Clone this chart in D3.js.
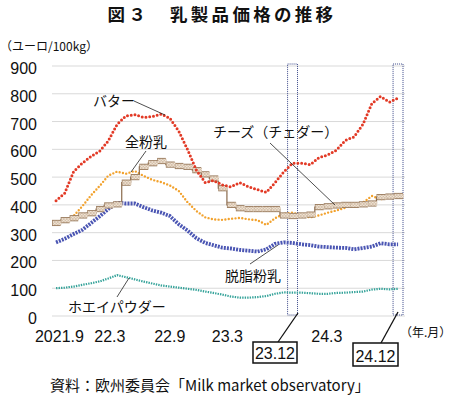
<!DOCTYPE html>
<meta charset="utf-8">
<script src="https://d3js.org/d3.v7.min.js"></script>
<style>
  body { margin: 0; background: #fff; }
  text { font-family: "Noto Sans CJK JP", "Liberation Sans", sans-serif; fill: #111; }
  .num { font-family: "Liberation Sans", Arial, sans-serif; }
</style>
<body>
<script>
// months, Sep 2021 .. Dec 2024
var months = d3.range(0, 40).map(function(i) { return new Date(2021, 8 + i, 1); });

// euro / 100kg, monthly
var butter = [415, 442, 520, 550, 575, 595, 630, 690, 720, 725, 715, 718, 727, 712, 665, 600, 525, 480, 488, 472,
              465, 480, 465, 455, 445, 480, 520, 550, 550, 545, 570, 580, 597, 632, 645, 690, 765, 790, 770, 785];
var wmp    = [330, 345, 360, 395, 435, 470, 505, 520, 512, 522, 505, 490, 482, 470, 450, 410, 378, 355, 348, 346,
              350, 353, 348, 345, 328, 352, 368, 372, 362, 355, 362, 372, 380, 390, 400, 408, 432, 420, 428, 435];
var cheese = [335, 345, 352, 362, 370, 385, 398, 402, 480, 500, 537, 550, 558, 545, 540, 537, 525, 510, 495, 460,
              400, 388, 385, 385, 385, 385, 362, 360, 362, 365, 392, 395, 398, 400, 400, 402, 405, 428, 430, 432];
var smp    = [265, 278, 295, 310, 335, 360, 385, 408, 405, 405, 392, 380, 372, 360, 330, 308, 280, 263, 255, 246,
              243, 238, 235, 232, 240, 260, 265, 263, 258, 255, 250, 248, 246, 245, 240, 245, 250, 262, 258, 258];
var whey   = [100, 102, 106, 112, 118, 125, 135, 147, 140, 132, 124, 117, 110, 106, 102, 98, 94, 88, 83, 77,
              70, 66, 66, 68, 72, 80, 85, 84, 84, 82, 80, 80, 83, 84, 86, 88, 95, 98, 96, 98];

var yTicks = [0, 100, 200, 300, 400, 500, 600, 700, 800, 900];
var xTickLabels = ["2021.9", "22.3", "22.9", "23.3", "24.3"];
var xTickDates = [new Date(2021, 8, 25), new Date(2022, 2, 19), new Date(2022, 9, 13), new Date(2023, 4, 1), new Date(2024, 3, 10)];
var marked = [new Date(2023, 11, 1), new Date(2024, 11, 1)];
var markedLabels = ["23.12", "24.12"];

var W = 450, H = 396;
var svg = d3.select("body").append("svg").attr("width", W).attr("height", H);

var x = d3.scaleTime().domain([new Date(2021, 8, 1), new Date(2025, 0, 1)]).range([52, 403]);
var y = d3.scaleLinear().domain([0, 900]).range([316, 66]);
function mid(d) { return new Date(d.getFullYear(), d.getMonth(), 15); }

// hatch pattern for cheese band
var defs = svg.append("defs");
var pat = defs.append("pattern").attr("id", "hatch").attr("patternUnits", "userSpaceOnUse")
  .attr("width", 3).attr("height", 3);
pat.append("rect").attr("width", 3).attr("height", 3).attr("fill", "#efe4d6");
pat.append("path").attr("d", "M0,3 L3,0 M0,0 L3,3").attr("stroke", "#bfa287").attr("stroke-width", 0.5);

// title
svg.append("text").attr("x", 222).attr("y", 21).attr("text-anchor", "middle")
  .style("font-size", "17.5px").style("font-weight", "bold").style("letter-spacing", "3.3px")
  .text("図３　乳製品価格の推移");

svg.append("text").attr("x", 0).attr("y", 51).style("font-size", "12px").text("（ユーロ/100kg）");

// grid + y labels
svg.append("g").selectAll("line").data(yTicks).enter().append("line")
  .attr("x1", 52).attr("x2", 405)
  .attr("y1", function(d) { return y(d); }).attr("y2", function(d) { return y(d); })
  .attr("stroke", "#d9d9d9").attr("stroke-width", 1);
svg.append("g").selectAll("text").data(yTicks).enter().append("text")
  .attr("class", "num").attr("x", 37).attr("y", function(d) { return y(d) + 8; })
  .attr("text-anchor", "end").style("font-size", "16px")
  .text(function(d) { return d; });

// x labels
var xAxis = d3.axisBottom(x).tickValues(xTickDates).tickSize(0)
  .tickFormat(function(d, i) { return xTickLabels[i]; });
var gx = svg.append("g").attr("transform", "translate(0,328)").call(xAxis);
gx.select(".domain").remove();
gx.selectAll("text").attr("class", "num").attr("dy", "0.71em").style("font-size", "16px").attr("fill", "#111");

svg.append("text").attr("x", 400).attr("y", 337).style("font-size", "12px").text("（年.月）");

// highlighted months
marked.forEach(function(d) {
  var next = new Date(d.getFullYear(), d.getMonth() + 1, 1);
  var x0 = x(d), x1 = Math.min(x(next), 404);
  svg.append("rect").attr("x", x0 - 1).attr("y", y(900) - 2)
    .attr("width", x1 - x0 + 1).attr("height", y(0) - y(900) + 1)
    .attr("fill", "none").attr("stroke", "#3d4a8a").attr("stroke-width", 1)
    .attr("stroke-dasharray", "1,1");
});

var line = d3.line().x(function(d, i) { return x(mid(months[i])); }).y(function(d) { return y(d); });

// whey
svg.append("path").datum(whey).attr("d", line).attr("fill", "none")
  .attr("stroke", "#35a39a").attr("stroke-width", 2.2).attr("stroke-dasharray", "1.4,1.1");

// skim milk powder
svg.append("path").datum(smp).attr("d", line).attr("fill", "none")
  .attr("stroke", "#4a55b3").attr("stroke-width", 3.8).attr("stroke-dasharray", "2,1.1");

// whole milk powder
svg.append("path").datum(wmp).attr("d", line).attr("fill", "none")
  .attr("stroke", "#f2a22e").attr("stroke-width", 2.4).attr("stroke-linecap", "round")
  .attr("stroke-dasharray", "0,3.4");

// cheese: thin step line + monthly hatched band
var step = d3.line().curve(d3.curveStepAfter)
  .x(function(d) { return x(d[0]); }).y(function(d) { return y(d[1]); });
var cheesePts = cheese.map(function(v, i) { return [months[i], v]; });
cheesePts.push([x.domain()[1], cheese[cheese.length - 1]]);
svg.append("path").datum(cheesePts).attr("d", step).attr("fill", "none")
  .attr("stroke", "#8a6a4c").attr("stroke-width", 1.2);
function seg(d, i) {
  var x0 = x(months[i]), x1 = x(i < 39 ? months[i + 1] : x.domain()[1]);
  return "M" + x0 + "," + y(d) + "H" + x1;
}
svg.append("g").selectAll("path").data(cheese).enter().append("path")
  .attr("d", seg).attr("stroke", "#9a7c5f").attr("stroke-width", 6.2).attr("fill", "none");
svg.append("g").selectAll("path").data(cheese).enter().append("path")
  .attr("d", function(d, i) { var s = seg(d, i); return s; })
  .attr("stroke", "url(#hatch)").attr("stroke-width", 4.4).attr("fill", "none")
  .attr("transform", "translate(0.7,0)");

// butter
svg.append("path").datum(butter).attr("d", line).attr("fill", "none")
  .attr("stroke", "#e23a26").attr("stroke-width", 3).attr("stroke-linecap", "round")
  .attr("stroke-dasharray", "0,3.8");

// series labels with leader lines
var labels = [
  {t: "バター", x: 93, y: 106, lx: [134, 165], ly: [101, 115]},
  {t: "全粉乳", x: 125, y: 147, lx: [146, 131], ly: [151, 172]},
  {t: "チーズ（チェダー）", x: 213, y: 137, lx: [270, 335], ly: [143, 205]},
  {t: "脱脂粉乳", x: 225, y: 281, lx: [250, 278], ly: [264, 245]},
  {t: "ホエイパウダー", x: 68, y: 312, lx: [117, 129], ly: [297, 278]}
];
labels.forEach(function(l) {
  svg.append("line").attr("x1", l.lx[0]).attr("y1", l.ly[0]).attr("x2", l.lx[1]).attr("y2", l.ly[1])
    .attr("stroke", "#222").attr("stroke-width", 0.8);
  svg.append("text").attr("x", l.x).attr("y", l.y).style("font-size", "14px").text(l.t);
});

// boxed month labels
var boxes = [{x: 253, y: 342, w: 44, h: 21, lx: [298, 278], ly: [313, 342]},
             {x: 353, y: 343, w: 45, h: 23, lx: [398, 381], ly: [312, 343]}];
boxes.forEach(function(b, i) {
  svg.append("line").attr("x1", b.lx[0]).attr("y1", b.ly[0]).attr("x2", b.lx[1]).attr("y2", b.ly[1])
    .attr("stroke", "#111").attr("stroke-width", 1.3);
  svg.append("rect").attr("x", b.x).attr("y", b.y).attr("width", b.w).attr("height", b.h)
    .attr("fill", "#fff").attr("stroke", "#111").attr("stroke-width", 1.5);
  svg.append("text").attr("class", "num").attr("x", b.x + b.w / 2).attr("y", b.y + b.h - 4.5)
    .attr("text-anchor", "middle").style("font-size", "16px").text(markedLabels[i]);
});

svg.append("text").attr("x", 50).attr("y", 391).style("font-size", "15px")
  .text("資料：欧州委員会「Milk market observatory」");
</script>
</body>
